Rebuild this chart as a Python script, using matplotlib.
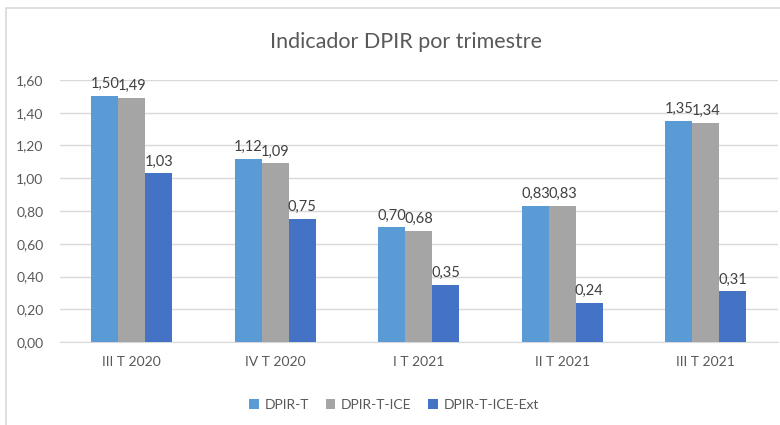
import numpy as np
import matplotlib.pyplot as plt
from matplotlib.patches import Rectangle

# Chart data
quarters = ["III T 2020", "IV T 2020", "I T 2021", "II T 2021", "III T 2021"]
dpir_t = [1.50, 1.12, 0.70, 0.83, 1.35]
dpir_t_ice = [1.49, 1.09, 0.68, 0.83, 1.34]
dpir_t_ice_ext = [1.03, 0.75, 0.35, 0.24, 0.31]
series_names = ["DPIR-T", "DPIR-T-ICE", "DPIR-T-ICE-Ext"]
colors = ["#5B9BD5", "#A5A5A5", "#4472C4"]

plt.rcParams['font.family'] = ['Lato', 'DejaVu Sans']
text_color = "#595959"

fig = plt.figure(figsize=(7.8, 4.25), dpi=100)
ax = fig.add_axes([0.077, 0.195, 0.92, 0.617])

# chart border
fig.patches.append(Rectangle((6 / 780, -0.05), 1.0, 1.05 - 8 / 425,
                             transform=fig.transFigure, fill=False,
                             edgecolor="#D9D9D9", linewidth=1.2))

x = np.arange(len(quarters))
w = 0.188
for i, (vals, name, c) in enumerate(zip([dpir_t, dpir_t_ice, dpir_t_ice_ext], series_names, colors)):
    bars = ax.bar(x + (i - 1) * w, vals, w, color=c, label=name, zorder=3)
    for b, v in zip(bars, vals):
        ax.text(b.get_x() + b.get_width() / 2, v + 0.03, f"{v:.2f}".replace(".", ","),
                ha="center", va="bottom", fontsize=10.5, color="#404040")

ax.set_xlim(-0.5, len(quarters) - 0.5)
ax.set_ylim(0, 1.6)
yt = np.arange(0, 1.61, 0.2)
ax.set_yticks(yt)
ax.set_yticklabels([f"{v:.2f}".replace(".", ",") for v in yt])
ax.set_xticks(x)
ax.set_xticklabels(quarters)
ax.tick_params(axis="both", length=0, labelsize=10, colors=text_color)
ax.tick_params(axis="x", pad=10)
ax.tick_params(axis="y", pad=12)
ax.grid(axis="y", color="#D9D9D9", linewidth=1, zorder=0)
for s in ["top", "right", "left"]:
    ax.spines[s].set_visible(False)
ax.spines["bottom"].set_color("#D9D9D9")

fig.text(0.52, 0.9, "Indicador DPIR por trimestre", ha="center", va="center",
         fontsize=15.5, color=text_color)

ax.legend(loc="center", bbox_to_anchor=(0.505, 0.047), bbox_transform=fig.transFigure,
          ncol=3, frameon=False, fontsize=10, handlelength=0.7, handleheight=0.7,
          handletextpad=0.4, columnspacing=1.2, labelcolor=text_color)

fig.savefig("out.png", dpi=100)
